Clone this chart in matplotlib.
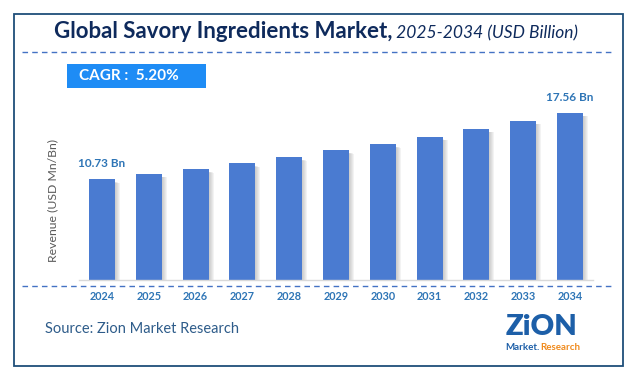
import matplotlib
matplotlib.use('Agg')
import matplotlib.pyplot as plt
from matplotlib.patches import Rectangle
from matplotlib.lines import Line2D

years = ['2024', '2025', '2026', '2027', '2028', '2029',
         '2030', '2031', '2032', '2033', '2034']
revenue = [10.73, 11.28, 11.77, 12.38, 13.00, 13.72,
           14.34, 15.12, 15.92, 16.74, 17.56]
labelled = {0: '10.73 Bn', 10: '17.56 Bn'}

title_bold = 'Global Savory Ingredients Market,'
title_ital = ' 2025-2034 (USD Billion)'
cagr_text = 'CAGR :  5.20%'
ylabel = 'Revenue (USD Mn/Bn)'
source = 'Source: Zion Market Research'

W, H = 636, 382
plt.rcParams['font.family'] = ['Lato', 'DejaVu Sans']

fig = plt.figure(figsize=(W / 100, H / 100), dpi=100)


def fx(px):
    return px / W


def fy(py):
    # py measured from top of image
    return 1 - py / H


navy = '#0E2A5C'
bar_color = '#4A7BD1'
label_blue = '#2E75B6'
dash_blue = '#4472C4'

# outer frame
fig.add_artist(Rectangle((fx(13.5), fy(366)), fx(623) - fx(13.5), fy(13.5) - fy(366),
                         transform=fig.transFigure, fill=False,
                         edgecolor='#1F4E79', linewidth=1.3))

# title
t1 = fig.text(fx(54), fy(32), title_bold, fontsize=16, fontweight='bold',
              color=navy, va='center', ha='left')
fig.canvas.draw()
bb = t1.get_window_extent()
fig.text(bb.x1 / W, fy(33), title_ital, fontsize=12.5, fontstyle='italic',
         color=navy, va='center', ha='left')

# dashed separators
for yy in (51.5, 285.5):
    fig.add_artist(Line2D([fx(22), fx(611)], [fy(yy), fy(yy)],
                          transform=fig.transFigure, color=dash_blue,
                          linewidth=1.0, linestyle=(0, (4, 3))))

# CAGR box
fig.add_artist(Rectangle((fx(67), fy(88)), fx(206) - fx(67), fy(64) - fy(88),
                         transform=fig.transFigure, facecolor='#1E8CF5',
                         edgecolor='none'))
fig.text(fx(79), fy(76), cagr_text, fontsize=11, fontweight='bold',
         color='white', va='center', ha='left')

# chart axes
ax = fig.add_axes([fx(78.6), fy(280), fx(593.4) - fx(78.6), fy(100) - fy(280)])
x = list(range(len(years)))
px = 1 / 46.8
for k in range(1, 6):
    ax.bar([i + k * px for i in x], [v - 0.25 - k * 0.02 for v in revenue],
           width=0.556, color='#7F7F7F', alpha=0.09, zorder=1, linewidth=0)
ax.bar(x, revenue, width=0.556, color=bar_color, zorder=2, linewidth=0)

for i, txt in labelled.items():
    ax.annotate(txt, (i, revenue[i]), xytext=(0, 7.5), textcoords='offset points',
                ha='center', va='bottom', fontsize=8.5, fontweight='bold',
                color=label_blue)

ax.set_xlim(-0.5, 10.5)
ax.set_ylim(0.36, 18.9)
ax.set_xticks(x)
ax.set_xticklabels(years, fontsize=7.8, fontweight='bold', color=label_blue)
ax.tick_params(axis='x', length=0, pad=8)
ax.set_yticks([])
for s in ('top', 'right', 'left'):
    ax.spines[s].set_visible(False)
ax.spines['bottom'].set_color('#D9D9D9')
ax.spines['bottom'].set_linewidth(1.0)

fig.text(fx(53), fy(201), ylabel, rotation=90, fontsize=8.8, color='#595959',
         ha='center', va='center')

# source
fig.text(fx(45), fy(329), source, fontsize=10.5, color='#2E5C8A',
         ha='left', va='center')

# logo
fig.text(fx(541), fy(327), 'ZiON', fontsize=21, fontweight='heavy',
         color='#1D5FA8', ha='center', va='center')
fig.text(fx(522), fy(347), 'Market.', fontsize=7, fontweight='bold',
         color='#1D5FA8', ha='center', va='center')
fig.text(fx(560), fy(347), 'Research', fontsize=7, fontweight='bold',
         color='#F08A1C', ha='center', va='center')

fig.savefig('out.png', dpi=100)
